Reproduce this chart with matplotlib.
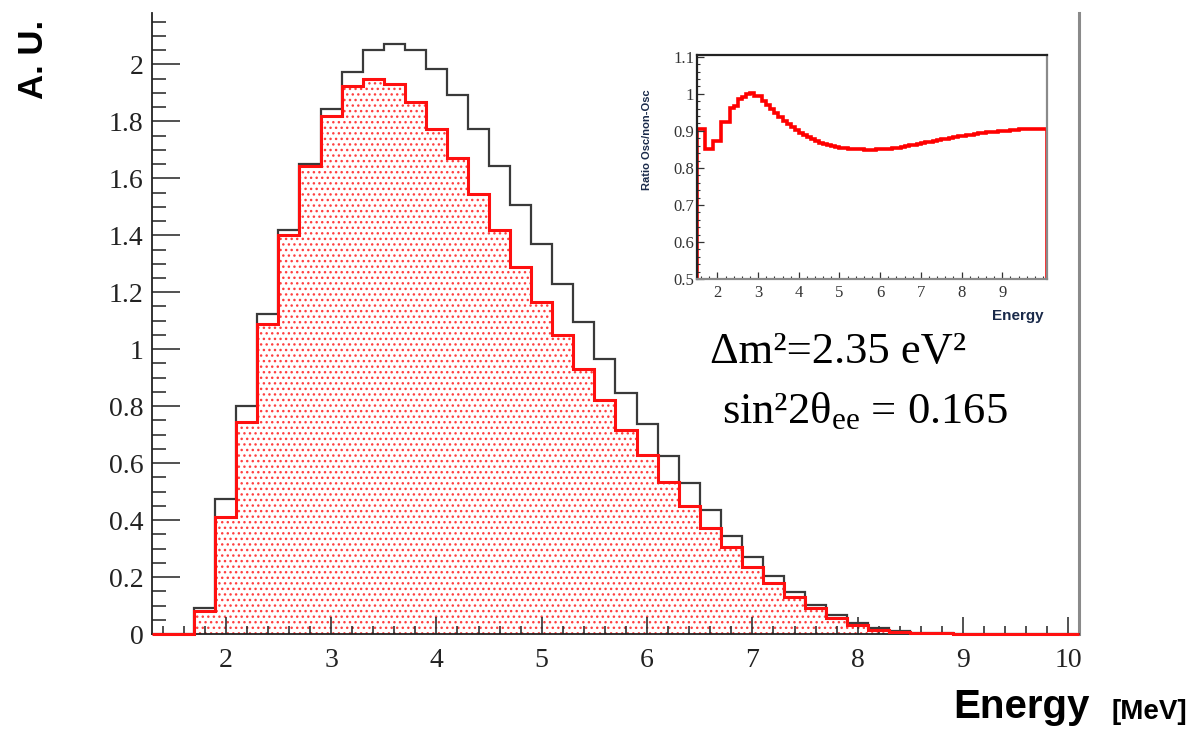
import numpy as np
import matplotlib
matplotlib.use("Agg")
import matplotlib.pyplot as plt
from matplotlib.ticker import MultipleLocator

# main spectrum, 0.2 MeV bins from 1.3 to 10.1 MeV
energy_edges = np.linspace(1.3, 10.1, 45)
no_osc = [0, 0, 0.09, 0.473, 0.80, 1.125, 1.42, 1.65, 1.845, 1.975, 2.052,
          2.07, 2.049, 1.985, 1.891, 1.774, 1.642, 1.508, 1.371, 1.23, 1.096,
          0.967, 0.847, 0.736, 0.626, 0.531, 0.437, 0.344, 0.269, 0.204,
          0.149, 0.102, 0.067, 0.037, 0.02, 0.01, 0.005, 0.003, 0.001,
          0, 0, 0, 0, 0]
osc = [0, 0, 0.08, 0.41, 0.745, 1.09, 1.40, 1.645, 1.82, 1.923, 1.949,
       1.932, 1.868, 1.774, 1.673, 1.546, 1.418, 1.289, 1.166, 1.049, 0.93,
       0.823, 0.716, 0.628, 0.535, 0.45, 0.371, 0.304, 0.236, 0.178,
       0.131, 0.09, 0.055, 0.032, 0.014, 0.008, 0.004, 0.002, 0.001,
       0, 0, 0, 0, 0]

# inset ratio, 0.1 MeV bins from 1.5 to 10.1 MeV
ratio_edges = np.linspace(1.5, 10.1, 87)
ratio = [0.905, 0.905, 0.852, 0.852, 0.873, 0.873, 0.925, 0.925, 0.962, 0.968,
         0.985, 0.992, 1.000, 1.003, 0.995, 0.993, 0.980, 0.970, 0.958, 0.948,
         0.937, 0.928, 0.918, 0.910, 0.902, 0.895, 0.889, 0.883, 0.877, 0.872,
         0.868, 0.864, 0.861, 0.858, 0.856, 0.854, 0.853, 0.852, 0.851, 0.850,
         0.850, 0.849, 0.849, 0.849, 0.850, 0.850, 0.851, 0.852, 0.853, 0.855,
         0.857, 0.859, 0.861, 0.863, 0.865, 0.867, 0.869, 0.871, 0.873, 0.875,
         0.877, 0.879, 0.881, 0.883, 0.885, 0.887, 0.888, 0.890, 0.891, 0.893,
         0.894, 0.896, 0.897, 0.898, 0.899, 0.900, 0.901, 0.902, 0.903, 0.904,
         0.904, 0.905, 0.905, 0.906, 0.906, 0.906]

plt.rcParams["mathtext.fontset"] = "custom"
plt.rcParams["mathtext.rm"] = "Liberation Serif"
plt.rcParams["mathtext.it"] = "Liberation Serif"

serif = "Liberation Serif"
sans = "Liberation Sans"

fig = plt.figure(figsize=(11.95, 7.30), dpi=100)
ax = fig.add_axes([0.1272, 0.1315, 0.7757, 0.8505])

ax.stairs(osc, energy_edges, fill=True, facecolor="none", edgecolor="#ff4040",
          linewidth=0, hatch="...", zorder=1)
ax.stairs(no_osc, energy_edges, color="#3a3a3a", linewidth=1.6, zorder=2)
ax.stairs(osc, energy_edges, color="#ff1010", linewidth=2.2, zorder=4,
          clip_on=False)

ax.set_xlim(1.3, 10.1)
ax.set_ylim(0, 2.18)
ax.xaxis.set_major_locator(MultipleLocator(1))
ax.xaxis.set_minor_locator(MultipleLocator(0.2))
ax.yaxis.set_minor_locator(MultipleLocator(0.05))
ax.set_yticks(np.arange(0, 2.01, 0.2))
ax.set_yticklabels(["0", "0.2", "0.4", "0.6", "0.8", "1", "1.2", "1.4", "1.6", "1.8", "2"])
ax.tick_params(axis="x", which="major", direction="in", length=12, width=1.1,
               pad=10, labelsize=20, colors="#222222")
ax.tick_params(axis="x", which="minor", direction="in", length=6, width=1.1,
               colors="#222222")
ax.tick_params(axis="y", which="major", direction="in", length=20, width=1.1,
               pad=6, labelsize=20, colors="#222222")
ax.tick_params(axis="y", which="minor", direction="in", length=10, width=1.1,
               colors="#222222")
for lab in ax.get_xticklabels() + ax.get_yticklabels():
    lab.set_fontfamily(serif)
ax.spines["top"].set_visible(False)
ax.spines["right"].set_color("#8a8a8a")
ax.spines["right"].set_linewidth(2.2)
ax.spines["left"].set_linewidth(1.3)
ax.spines["left"].set_color("#222222")
ax.spines["bottom"].set_linewidth(1.3)
ax.spines["bottom"].set_color("#222222")

fig.text(0.028, 0.918, "A. U.", rotation=90, ha="center", va="center",
         fontsize=25, fontweight="bold", family=sans)
fig.text(0.855, 0.032, "Energy", ha="center", va="center", fontsize=29,
         fontweight="bold", family=sans)
fig.text(0.962, 0.025, "[MeV]", ha="center", va="center", fontsize=20,
         fontweight="bold", family=sans)

fig.text(0.594, 0.5027, "Δm²=2.35 eV²", ha="left", va="baseline",
         fontsize=32, family=serif)
fig.text(0.604, 0.4205, r"sin²2θ$_{\rm ee}$ = 0.165", ha="left", va="baseline",
         fontsize=32, family=serif)

# inset: ratio osc / non-osc
ins = fig.add_axes([0.5833, 0.6178, 0.2929, 0.3069])
ins.stairs(ratio, ratio_edges, color="#ff0000", linewidth=2.6)
ins.set_xlim(1.5, 10.1)
ins.set_ylim(0.5, 1.105)
ins.set_xticks(range(2, 10))
ins.xaxis.set_minor_locator(MultipleLocator(0.2))
ins.set_yticks([0.5, 0.6, 0.7, 0.8, 0.9, 1.0, 1.1])
ins.set_yticklabels(["0.5", "0.6", "0.7", "0.8", "0.9", "1", "1.1"])
ins.yaxis.set_minor_locator(MultipleLocator(0.02))
ins.tick_params(which="major", direction="in", length=5, width=0.9, labelsize=12,
                colors="#333333")
ins.tick_params(axis="x", which="major", pad=4)
ins.tick_params(axis="y", which="major", pad=2)
ins.tick_params(which="minor", direction="in", length=2.5, width=0.8, colors="#333333")
for lab in ins.get_xticklabels() + ins.get_yticklabels():
    lab.set_fontfamily(serif)
ins.spines["top"].set_color("#222222")
ins.spines["left"].set_color("#222222")
ins.spines["right"].set_color("#8a8a8a")
ins.spines["bottom"].set_color("#8a8a8a")
for s in ins.spines.values():
    s.set_linewidth(1.6)

fig.text(0.5414, 0.808, "Ratio Osc/non-Osc", rotation=90, ha="center",
         va="center", fontsize=8, fontweight="bold", family=sans, color="#1a2a4a")
fig.text(0.873, 0.567, "Energy", ha="right", va="center", fontsize=11,
         fontweight="bold", family=sans, color="#1a2a4a")

fig.savefig("out.png", dpi=100)
